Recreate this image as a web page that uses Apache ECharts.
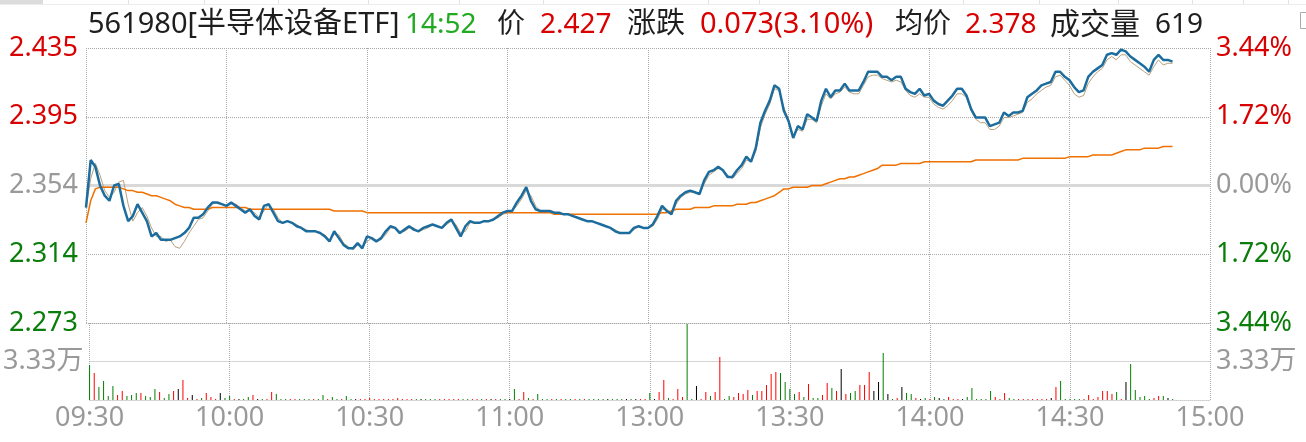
<!DOCTYPE html>
<html><head><meta charset="utf-8">
<script src="https://cdn.jsdelivr.net/npm/echarts@6/dist/echarts.min.js"></script>
<style>html,body{margin:0;padding:0;background:#fff}#c{width:1306px;height:442px}</style>
</head><body><div id="c"></div>
<script>
// ---------- data ----------
const timeLabels = ['09:30','10:00','10:30','11:00','13:00','13:30','14:00','14:30','15:00'];
const prevClose = 2.354;
const sessionMinutes = [0, 240];
const priceTickValues = [2.273, 2.3135, 2.354, 2.3945, 2.435];
const priceGridValues = [2.273, 2.3135, 2.3945, 2.435];
const priceTickLabels = ['2.273','2.314','2.354','2.395','2.435'];
const pctTickLabels = ['3.44%','1.72%','0.00%','1.72%','3.44%'];
const volTickValues = [0, 33300, 66600];
const volLabelValue = 33300;
const volLabelText = '3.33万';
const headerTexts = ['561980[半导体设备ETF]','14:52','价','2.427','涨跌','0.073(3.10%)','均价','2.378','成交量','619'];
const headerKinds = ['name','time','key','up','key','up','key','up','key','plain'];

const price = [
2.341,2.369,2.365,2.354,2.348,2.345,2.354,2.355,2.342,2.333,
2.336,2.343,2.338,2.333,2.324,2.326,2.322,2.322,2.322,2.323,
2.324,2.326,2.329,2.335,2.335,2.337,2.341,2.344,2.344,2.343,
2.342,2.344,2.342,2.340,2.338,2.340,2.336,2.334,2.342,2.343,
2.338,2.333,2.332,2.333,2.332,2.330,2.329,2.327,2.327,2.327,
2.326,2.324,2.321,2.327,2.323,2.319,2.317,2.317,2.320,2.317,
2.324,2.323,2.321,2.323,2.327,2.330,2.329,2.326,2.328,2.330,
2.328,2.327,2.329,2.330,2.331,2.330,2.329,2.332,2.334,2.329,
2.324,2.330,2.333,2.332,2.332,2.333,2.333,2.334,2.336,2.338,
2.339,2.339,2.344,2.348,2.353,2.345,2.340,2.339,2.339,2.339,
2.338,2.338,2.337,2.337,2.336,2.335,2.334,2.333,2.333,2.332,
2.331,2.330,2.329,2.327,2.326,2.326,2.326,2.329,2.330,2.329,
2.329,2.331,2.336,2.342,2.339,2.337,2.345,2.348,2.350,2.351,
2.350,2.349,2.357,2.362,2.363,2.365,2.363,2.359,2.359,2.363,
2.366,2.371,2.368,2.376,2.391,2.398,2.404,2.413,2.411,2.398,
2.392,2.382,2.389,2.387,2.396,2.394,2.392,2.404,2.411,2.406,
2.410,2.410,2.414,2.410,2.410,2.410,2.415,2.421,2.421,2.421,
2.418,2.418,2.416,2.418,2.418,2.411,2.409,2.408,2.411,2.407,
2.408,2.404,2.402,2.401,2.404,2.407,2.411,2.411,2.407,2.399,
2.394,2.394,2.394,2.389,2.390,2.391,2.397,2.395,2.397,2.397,
2.398,2.406,2.408,2.410,2.413,2.414,2.415,2.421,2.421,2.418,
2.416,2.412,2.409,2.410,2.418,2.421,2.423,2.425,2.431,2.432,
2.431,2.434,2.433,2.430,2.428,2.426,2.424,2.421,2.428,2.431,
2.428,2.428,2.427];

const tanLine = [
2.341,2.358,2.367,2.360,2.351,2.347,2.350,2.356,2.357,2.343,
2.333,2.338,2.341,2.336,2.329,2.324,2.324,2.321,2.322,2.318,
2.317,2.321,2.326,2.330,2.334,2.335,2.339,2.343,2.344,2.343,
2.342,2.343,2.343,2.341,2.339,2.339,2.338,2.335,2.339,2.343,
2.340,2.335,2.332,2.333,2.332,2.331,2.329,2.328,2.327,2.327,
2.326,2.325,2.322,2.325,2.325,2.320,2.318,2.316,2.319,2.318,
2.321,2.323,2.322,2.322,2.325,2.329,2.329,2.327,2.327,2.329,
2.329,2.327,2.328,2.329,2.331,2.330,2.329,2.331,2.333,2.331,
2.326,2.327,2.332,2.332,2.332,2.333,2.333,2.334,2.335,2.337,
2.338,2.339,2.342,2.346,2.351,2.348,2.342,2.339,2.339,2.339,
2.338,2.338,2.337,2.337,2.336,2.335,2.334,2.333,2.333,2.332,
2.331,2.330,2.329,2.328,2.326,2.326,2.326,2.328,2.330,2.329,
2.329,2.330,2.334,2.340,2.340,2.338,2.343,2.347,2.349,2.350,
2.350,2.349,2.355,2.360,2.362,2.364,2.363,2.360,2.358,2.361,
2.364,2.369,2.368,2.374,2.388,2.396,2.402,2.411,2.410,2.400,
2.393,2.383,2.387,2.386,2.393,2.393,2.391,2.401,2.408,2.405,
2.408,2.409,2.412,2.409,2.408,2.408,2.413,2.418,2.419,2.419,
2.417,2.416,2.415,2.416,2.415,2.410,2.407,2.406,2.408,2.406,
2.406,2.402,2.400,2.399,2.401,2.404,2.408,2.408,2.406,2.398,
2.393,2.391,2.391,2.387,2.387,2.389,2.394,2.394,2.395,2.396,
2.397,2.403,2.405,2.408,2.410,2.412,2.413,2.418,2.419,2.416,
2.413,2.408,2.406,2.407,2.414,2.418,2.421,2.423,2.428,2.430,
2.428,2.431,2.431,2.427,2.425,2.423,2.421,2.419,2.424,2.428,
2.425,2.426,2.426];

const avgPrice = [
2.332,2.345,2.352,2.353,2.353,2.353,2.353,2.353,2.352,2.351,
2.351,2.350,2.350,2.349,2.348,2.348,2.347,2.346,2.345,2.343,
2.342,2.341,2.341,2.340,2.340,2.340,2.340,2.341,2.341,2.341,
2.341,2.341,2.341,2.341,2.341,2.340,2.340,2.340,2.340,2.340,
2.340,2.340,2.340,2.340,2.340,2.340,2.340,2.340,2.340,2.340,
2.340,2.340,2.340,2.339,2.339,2.339,2.339,2.339,2.339,2.339,
2.338,2.338,2.338,2.338,2.338,2.338,2.338,2.338,2.338,2.338,
2.338,2.338,2.338,2.338,2.338,2.338,2.338,2.338,2.338,2.338,
2.338,2.338,2.338,2.338,2.338,2.338,2.338,2.338,2.338,2.338,
2.338,2.338,2.338,2.338,2.338,2.338,2.338,2.338,2.338,2.338,
2.337,2.337,2.337,2.337,2.337,2.337,2.337,2.337,2.337,2.337,
2.337,2.337,2.337,2.337,2.337,2.337,2.337,2.337,2.337,2.337,
2.337,2.337,2.337,2.338,2.338,2.339,2.340,2.340,2.340,2.340,
2.341,2.341,2.341,2.341,2.342,2.342,2.342,2.342,2.342,2.343,
2.343,2.343,2.344,2.344,2.345,2.346,2.347,2.348,2.350,2.352,
2.352,2.353,2.353,2.353,2.353,2.354,2.354,2.354,2.355,2.356,
2.357,2.358,2.358,2.359,2.359,2.360,2.361,2.362,2.363,2.364,
2.366,2.366,2.366,2.366,2.367,2.367,2.367,2.367,2.367,2.368,
2.368,2.368,2.368,2.368,2.368,2.368,2.368,2.368,2.368,2.368,
2.369,2.369,2.369,2.369,2.369,2.369,2.369,2.369,2.369,2.369,
2.370,2.370,2.370,2.370,2.370,2.370,2.370,2.370,2.370,2.370,
2.371,2.371,2.371,2.371,2.371,2.372,2.372,2.372,2.372,2.372,
2.373,2.374,2.375,2.375,2.375,2.375,2.376,2.376,2.376,2.376,
2.377,2.377,2.377];

const volume = [
30300,23400,11200,16400,3500,12100,4300,7800,3500,4300,
6100,6100,3500,2600,9500,6900,1700,5200,7800,9500,
17300,1700,4300,900,1700,6100,2600,900,6100,1700,
3500,900,900,900,2600,4300,900,900,900,6900,
5200,900,900,900,900,900,900,900,900,900,
4300,900,2600,900,900,3500,900,900,900,900,
1700,900,900,900,900,900,1700,900,900,900,
900,900,900,900,900,900,900,900,900,900,
900,900,900,900,900,900,900,900,900,900,
900,9500,900,6900,1700,900,5200,900,900,900,
900,900,900,900,900,900,900,900,900,900,
900,900,900,900,900,900,900,900,900,900,
6100,900,6900,17300,1700,900,9500,2600,65700,900,
12100,900,6900,3500,6900,37200,900,3500,2600,6100,
5200,8700,4300,7800,7800,13000,22500,24200,23400,15600,
9500,5200,6900,2600,13800,1700,1700,4300,14700,10400,
7800,26800,5200,6100,7800,13000,13000,24200,7800,15600,
40700,5200,900,1700,11200,6100,5200,1700,900,1700,
900,2600,1700,900,2600,900,900,900,2600,10400,
900,900,900,7800,2600,900,6100,1700,900,900,
900,900,900,900,900,900,1700,11200,16400,900,
900,900,900,900,4300,900,2600,7800,7800,5200,
6900,900,15600,31100,8700,2600,3500,900,1700,3500,
3500,1700,900];

// r = up, g = down, k = flat
const volDir = (
'grggggrrgg' + 'grgggrggrk' + 'rrkrgrrrkg' + 'grkggrkgrr' + 'gggrrgggrg' +
'grggrggkrr' + 'rrrrrrrrrr' + 'gkgggrrrrr' + 'ggrrgrkrgg' + 'kgrrgrgggr' +
'grggrgrggg' + 'gkgggkgkrr' + 'gkrrgrrrgg' + 'krrgrrggrr' + 'rrgrrrrrgg' +
'ggrgrggrrg' + 'rkrggrrrkk' + 'gkgrkggrkg' + 'rgkgrrrkgg' + 'ggggrrrggr' +
'rrrrrrkrgg' + 'gggrrrrrrr' + 'grkgggggrr' + 'gkg').split('');

// ---------- style ----------
const FONT = "'Noto Sans','Noto Sans CJK SC',sans-serif";
const RED = '#d80000', GREEN = '#0a7d0a', GREY = '#999999', DARK = '#1e1e1e', TIMEGREEN = '#22aa22';
const GRIDC = '#a9a9a9';
const kindColor = {name: DARK, time: TIMEGREEN, key: DARK, up: RED, plain: DARK};
const headerX = [88, 405, 497, 540, 627, 700, 895, 965, 1050, 1155];
const headerSize = [29, 28, 28, 28, 29, 29, 28, 28, 30, 28];
const dirColor = {r: '#ff0000', g: '#008000', k: '#000000'};

function tickIndex(v) {
  const x = parseFloat(v);
  let best = 0;
  for (let i = 0; i < priceTickValues.length; i++) {
    if (Math.abs(priceTickValues[i] - x) < Math.abs(priceTickValues[best] - x)) best = i;
  }
  return best;
}
function priceColor(v) {
  const x = parseFloat(v);
  if (Math.abs(x - prevClose) < 1e-6) return GREY;
  return x > prevClose ? RED : GREEN;
}

const chart = echarts.init(document.getElementById('c'), null, {renderer: 'canvas'});

const graphics = [];
graphics.push({type: 'rect', shape: {x: 0, y: 0, width: 43, height: 4}, style: {fill: '#dcdcdc'}, silent: true});
graphics.push({type: 'line', shape: {x1: 0, y1: 4.5, x2: 1306, y2: 4.5}, style: {stroke: '#ececec', lineWidth: 1}, silent: true});
[128, 204, 278, 368, 459, 543, 708, 759, 963, 1039, 1118, 1192, 1243, 1288].forEach(function (x) {
  graphics.push({type: 'line', shape: {x1: x + 0.5, y1: 0, x2: x + 0.5, y2: 4}, style: {stroke: '#e2e2e2', lineWidth: 1}, silent: true});
});
graphics.push({type: 'rect', shape: {x: 1300.5, y: 12.5, width: 8, height: 16}, style: {fill: 'none', stroke: '#aaaaaa', lineWidth: 1}, silent: true});
headerTexts.forEach(function (t, i) {
  graphics.push({
    type: 'text', x: headerX[i], y: 25, silent: true,
    style: {text: t, fill: kindColor[headerKinds[i]], font: headerSize[i] + 'px ' + FONT, textVerticalAlign: 'middle', textAlign: 'left'}
  });
});

const labelFont = {fontSize: 27, fontFamily: FONT};

const option = {
  animation: false,
  backgroundColor: '#ffffff',
  graphic: graphics,
  grid: [
    {left: 86, right: 96, top: 48, height: 275},
    {left: 86, right: 96, top: 323, height: 77}
  ],
  xAxis: [0, 1].map(function (g) {
    return {
      type: 'value', gridIndex: g, min: 0, max: 240, interval: 30,
      axisLine: {show: false}, axisTick: {show: false},
      axisLabel: g === 1 ? Object.assign({
        show: true, color: GREY, margin: 5,
        formatter: function (v) { return timeLabels[Math.round(v / 30)] || ''; }
      }, labelFont) : {show: false},
      splitLine: {show: true, lineStyle: {type: 'dotted', color: GRIDC, width: 1}}
    };
  }),
  yAxis: [
    {
      type: 'value', gridIndex: 0, position: 'left', min: 2.273, max: 2.435,
      axisLine: {show: false},
      axisTick: {show: false, customValues: priceGridValues},
      axisLabel: Object.assign({
        customValues: priceTickValues, margin: 8,
        formatter: function (v) { return priceTickLabels[tickIndex(v)]; },
        color: function (v) { return priceColor(v); }
      }, labelFont),
      splitLine: {show: true, lineStyle: {type: 'dotted', color: GRIDC, width: 1}}
    },
    {
      type: 'value', gridIndex: 0, position: 'right', min: 2.273, max: 2.435,
      axisLine: {show: false},
      axisTick: {show: false, customValues: priceGridValues},
      axisLabel: Object.assign({
        customValues: priceTickValues, margin: 6,
        formatter: function (v) { return pctTickLabels[tickIndex(v)]; },
        color: function (v) { return priceColor(v); }
      }, labelFont),
      splitLine: {show: false}
    },
    {
      type: 'value', gridIndex: 1, position: 'left', min: 0, max: 66600,
      axisLine: {show: false},
      axisTick: {show: false, customValues: volTickValues},
      axisLabel: Object.assign({customValues: [volLabelValue], margin: 6, color: GREY, formatter: function () { return volLabelText; }}, labelFont),
      splitLine: {show: true, lineStyle: {type: 'dotted', color: GRIDC, width: 1}}
    },
    {
      type: 'value', gridIndex: 1, position: 'right', min: 0, max: 66600,
      axisLine: {show: false},
      axisTick: {show: false, customValues: volTickValues},
      axisLabel: Object.assign({customValues: [volLabelValue], margin: 6, color: GREY, formatter: function () { return volLabelText; }}, labelFont),
      splitLine: {show: false}
    }
  ],
  series: [
    {
      type: 'line', name: 'prevClose', xAxisIndex: 0, yAxisIndex: 0, z: 1,
      data: sessionMinutes.map(function (m) { return [m, prevClose]; }),
      showSymbol: false, symbol: 'none', silent: true,
      lineStyle: {color: '#d9d9d9', width: 3}
    },
    {
      type: 'line', name: 'tan', xAxisIndex: 0, yAxisIndex: 0, z: 2,
      data: tanLine.map(function (v, i) { return [i, v]; }),
      showSymbol: false, symbol: 'none', silent: true,
      lineStyle: {color: '#b8a17d', width: 1}
    },
    {
      type: 'line', name: 'avg', xAxisIndex: 0, yAxisIndex: 0, z: 3,
      data: avgPrice.map(function (v, i) { return [i, v]; }),
      showSymbol: false, symbol: 'none', silent: true,
      lineStyle: {color: '#f07000', width: 1.5}
    },
    {
      type: 'line', name: 'price', xAxisIndex: 0, yAxisIndex: 0, z: 4,
      data: price.map(function (v, i) { return [i, v]; }),
      showSymbol: false, symbol: 'none', silent: true,
      lineStyle: {color: '#1c6d9e', width: 2.5}
    },
    {
      type: 'bar', name: 'vol', xAxisIndex: 1, yAxisIndex: 2, barWidth: 1, silent: true,
      data: volume.map(function (v, i) { return {value: [i, v], itemStyle: {color: dirColor[volDir[i]]}}; })
    }
  ]
};
chart.setOption(option);
</script>
</body></html>
